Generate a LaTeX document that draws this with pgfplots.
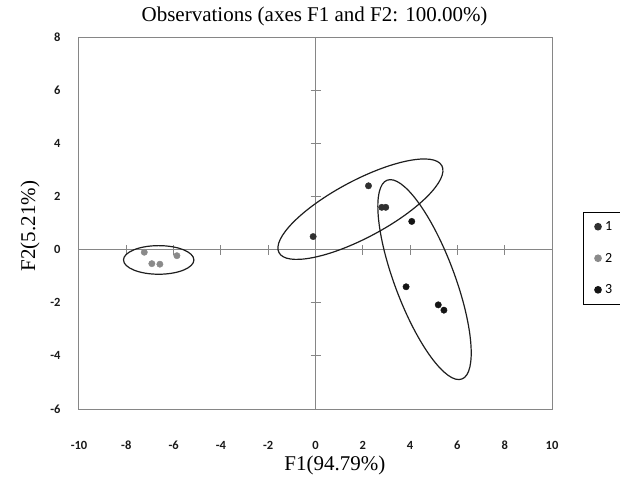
\documentclass[border=0pt]{standalone}
\usepackage{pgfplots}
\pgfplotsset{compat=1.18}
\usepackage{fontspec}
\setmainfont{Liberation Serif}
\newfontfamily\calfont{Carlito}
\definecolor{axgray}{HTML}{868686}
\definecolor{ellc}{HTML}{1E1E1E}
\definecolor{gone}{HTML}{303030}
\definecolor{gtwo}{HTML}{8A8A8A}
\definecolor{gthree}{HTML}{141414}
\definecolor{tickc}{HTML}{1A1A1A}
\begin{document}
\begin{tikzpicture}
\begin{axis}[
  width=473pt, height=372pt, scale only axis,
  xmin=-10, xmax=10, ymin=-6, ymax=8,
  axis lines=middle,
  axis line style={-, axgray, line width=1pt},
  xtick={-8,-6,...,8}, ytick={-4,-2,...,6},
  xticklabels={}, yticklabels={},
  tick align=center, major tick length=10pt,
  tick style={axgray, line width=1pt},
]
\end{axis}
\begin{axis}[
  width=473pt, height=372pt, scale only axis,
  xmin=-10, xmax=10, ymin=-6, ymax=8,
  xtick={-10,-8,...,10}, ytick={-6,-4,...,8},
  major tick length=0pt, tick style={draw=none},
  axis line style={axgray, line width=1pt},
  /pgf/number format/assume math mode=true,
  ticklabel style={font=\calfont\bfseries\fontsize{12.5}{14}\selectfont, text=tickc},
  xticklabel style={anchor=base, yshift=-40pt},
  yticklabel style={anchor=east, xshift=-15pt},
  title={Observations (axes F1 and F2: 100.00\%)},
  title style={at={(axis description cs:0.498,1.025)}, anchor=base, font=\fontsize{21}{24}\selectfont},
  xlabel={F1(94.79\%)},
  xlabel style={at={(axis description cs:0.541,-0.164)}, anchor=base, font=\fontsize{21}{24}\selectfont},
  ylabel={F2(5.21\%)},
  ylabel style={at={(axis description cs:-0.093,0.492)}, anchor=base, font=\fontsize{21}{24}\selectfont},
  legend cell align=left,
  legend image code/.code={\draw[mark repeat=2,mark phase=2,#1] plot coordinates {(0pt,0pt) (3pt,0pt) (6pt,0pt)};},
  legend style={at={(rel axis cs:1.066,0.530)}, anchor=north west, draw=black, line width=1.2pt,
    font=\calfont\fontsize{14}{16}\selectfont, row sep=17pt, inner xsep=11pt, inner ysep=7pt,
    /tikz/every odd column/.append style={column sep=2pt}},
  clip=false,
]
\addplot[only marks, mark=*, mark size=3.2pt, color=gone] coordinates {
  (-0.10,0.49) (2.24,2.40) (2.80,1.59) (2.97,1.59)
};
\addlegendentry{1}
\addplot[only marks, mark=*, mark size=3.2pt, color=gtwo] coordinates {
  (-7.24,-0.10) (-6.92,-0.53) (-6.58,-0.55) (-5.86,-0.23)
};
\addlegendentry{2}
\addplot[only marks, mark=*, mark size=3.2pt, color=gthree] coordinates {
  (4.07,1.06) (3.83,-1.40) (5.19,-2.08) (5.43,-2.28)
};
\addlegendentry{3}
\draw[ellc, line width=1.2pt, rotate around={28.1:(axis cs:1.90,1.52)}] (axis cs:1.90,1.52) ellipse [x radius=92.3pt, y radius=28.5pt];
\draw[ellc, line width=1.2pt, rotate around={-69.4:(axis cs:4.61,-1.13)}] (axis cs:4.61,-1.13) ellipse [x radius=106.2pt, y radius=29.9pt];
\draw[ellc, line width=1.2pt] (axis cs:-6.63,-0.39) ellipse [x radius=35.2pt, y radius=14.3pt];
\end{axis}
\pgfresetboundingbox
\path ([shift={(-79pt,-72pt)}]current axis.south west) rectangle ([shift={(68pt,37pt)}]current axis.north east);
\end{tikzpicture}
\end{document}
